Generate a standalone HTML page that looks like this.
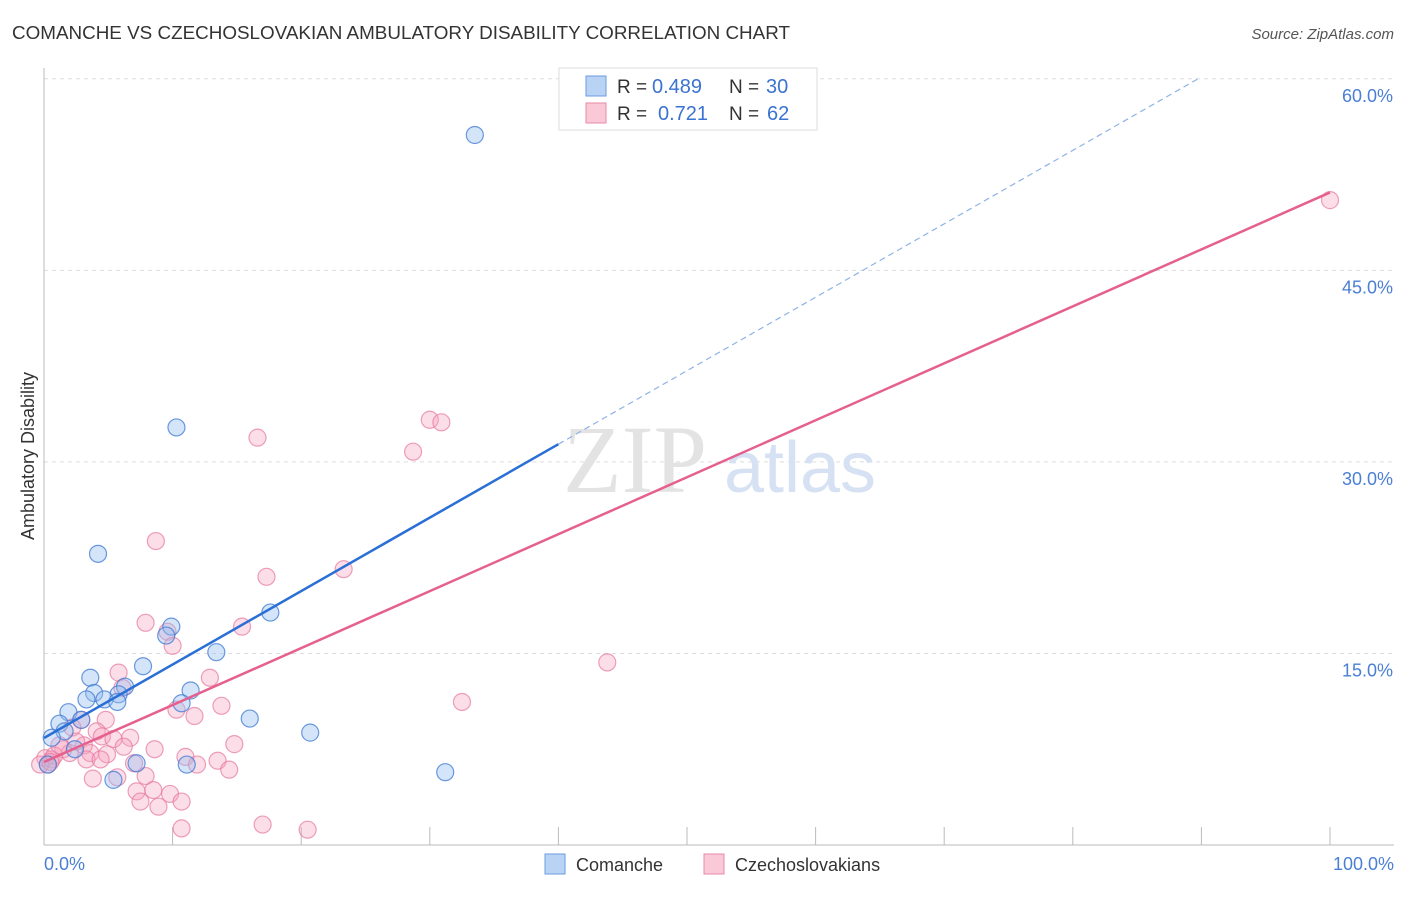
<!DOCTYPE html>
<html><head><meta charset="utf-8"><style>
body{margin:0;background:#fff;font-family:"Liberation Sans",sans-serif;}
</style></head><body>
<svg width="1406" height="892" xmlns="http://www.w3.org/2000/svg">
<text x="12" y="39" font-size="18" fill="#333" textLength="778" lengthAdjust="spacingAndGlyphs">COMANCHE VS CZECHOSLOVAKIAN AMBULATORY DISABILITY CORRELATION CHART</text>
<text x="1394" y="39" font-size="15" fill="#555" font-style="italic" text-anchor="end">Source: ZipAtlas.com</text>
<g id="grid"></g>
<g><text x="635" y="492" font-size="96" font-family="Liberation Serif" fill="#e3e3e3" text-anchor="middle">ZIP</text><text x="800" y="492" font-size="72" fill="#d6e2f3" text-anchor="middle">atlas</text></g>
<line x1="44" y1="68" x2="44" y2="845" stroke="#bbb"/>
<line x1="44" y1="845" x2="1394" y2="845" stroke="#bbb"/>
<text transform="translate(34,456) rotate(-90)" font-size="18" fill="#333" text-anchor="middle">Ambulatory Disability</text>
<text x="44" y="870" font-size="18" fill="#4a7fd4">0.0%</text>
<text x="1394" y="870" font-size="18" fill="#4a7fd4" text-anchor="end">100.0%</text>
<g id="marks"></g>
<g>
<rect x="559" y="68" width="258" height="62" fill="#fff" stroke="#ddd"/>
<rect x="586" y="76" width="20" height="20" fill="#b9d3f5" stroke="#6a9be0"/>
<rect x="586" y="103" width="20" height="20" fill="#f9c9d8" stroke="#e88aa8"/>
<text x="617" y="93" font-size="19" fill="#333">R =</text>
<text x="652" y="93" font-size="20" fill="#3b73d1">0.489</text>
<text x="729" y="93" font-size="19" fill="#333">N =</text>
<text x="766" y="93" font-size="20" fill="#3b73d1">30</text>
<text x="617" y="120" font-size="19" fill="#333">R =</text>
<text x="658" y="120" font-size="20" fill="#3b73d1">0.721</text>
<text x="729" y="120" font-size="19" fill="#333">N =</text>
<text x="767" y="120" font-size="20" fill="#3b73d1">62</text>
</g>
<g>
<rect x="545" y="854" width="20" height="20" fill="#b9d3f5" stroke="#6a9be0"/>
<text x="576" y="871" font-size="18" fill="#333">Comanche</text>
<rect x="704" y="854" width="20" height="20" fill="#f9c9d8" stroke="#e88aa8"/>
<text x="735" y="871" font-size="18" fill="#333">Czechoslovakians</text>
</g>
</svg>
<script>
const yTicks=[15,30,45,60];
const xTicks=[10,20,30,40,50,60,70,80,90,100];
const blueX=[33.5,10.3,4.2,17.6,9.9,9.5,13.4,7.7,3.6,6.3,3.9,5.8,11.4,3.3,4.7,5.7,10.7,1.9,16.0,2.9,1.2,1.6,20.7,0.6,2.4,7.2,11.1,31.2,5.4,0.3];
const blueY=[55.6,32.7,22.8,18.2,17.1,16.4,15.1,14.0,13.1,12.4,11.9,11.8,12.1,11.4,11.4,11.2,11.1,10.4,9.9,9.8,9.5,8.9,8.8,8.4,7.5,6.4,6.3,5.7,5.1,6.3];
const pinkX=[100,30.0,30.9,16.6,28.7,8.7,17.3,23.3,7.9,15.4,9.6,10.0,43.8,5.8,12.9,6.1,32.5,10.3,13.8,11.7,4.8,2.9,2.2,4.1,4.5,6.7,5.4,8.6,14.8,3.1,1.5,2.0,3.6,4.9,0.1,0.6,0.8,11.0,7.0,13.5,11.9,3.3,14.4,7.9,5.7,3.8,7.2,8.5,9.8,7.5,10.7,8.9,10.7,17.0,20.5,0.3,-0.3,1.2,0.5,2.5,4.4,6.2];
const pinkY=[50.5,33.3,33.1,31.9,30.8,23.8,21.0,21.6,17.4,17.1,16.7,15.6,14.3,13.5,13.1,12.3,11.2,10.6,10.9,10.1,9.8,9.8,9.2,8.9,8.5,8.4,8.3,7.5,7.9,7.8,7.5,7.2,7.2,7.1,6.8,6.7,7.0,6.9,6.4,6.6,6.3,6.7,5.9,5.4,5.3,5.2,4.2,4.3,4.0,3.4,3.4,3.0,1.3,1.6,1.2,6.3,6.3,7.8,6.5,8.1,6.7,7.7];
const blueFit=[8.38,65.9];
const pinkFit=[6.5,51.1];
const X=v=>44+v*12.86, Y=v=>845-v*12.77;
const NS='http://www.w3.org/2000/svg';
const grid=document.getElementById('grid'), marks=document.getElementById('marks');
function mk(tag,attrs,parent){const e=document.createElementNS(NS,tag);for(const k in attrs)e.setAttribute(k,attrs[k]);parent.appendChild(e);return e;}
yTicks.forEach(t=>{
 const l=mk('line',{x1:44,x2:1394,y1:Y(t),y2:Y(t),stroke:'#ddd','stroke-dasharray':'4,4'},grid);
 
 
 const tx=mk('text',{x:1393,y:Y(t)+23,'font-size':18,fill:'#4a7fd4','text-anchor':'end'},grid);
 tx.textContent=t.toFixed(1)+'%';
 
 
});
xTicks.forEach(t=>{
 const l=mk('line',{x1:X(t),x2:X(t),y1:827,y2:845,stroke:'#bbb'},grid);
 
 
});
pinkX.forEach((x,i)=>{
 const c=mk('circle',{cx:X(x),cy:Y(pinkY[i]),r:8.5,fill:'rgba(245,160,190,0.35)',stroke:'rgba(230,120,160,0.7)','stroke-width':1.2},marks);
 
 
});
blueX.forEach((x,i)=>{
 const c=mk('circle',{cx:X(x),cy:Y(blueY[i]),r:8.5,fill:'rgba(150,190,240,0.4)',stroke:'rgba(60,120,210,0.75)','stroke-width':1.2},marks);
 
 
});
const bAt=x=>blueFit[0]+(blueFit[1]-blueFit[0])*x/100;
const pAt=x=>pinkFit[0]+(pinkFit[1]-pinkFit[0])*x/100;
const bl=mk('line',{x1:X(0),y1:Y(bAt(0)),x2:X(40),y2:Y(bAt(40)),stroke:'#2a6fd6','stroke-width':2.5},marks);


const xEnd=(60.0-blueFit[0])/(blueFit[1]-blueFit[0])*100;
const bd=mk('line',{x1:X(40),y1:Y(bAt(40)),x2:X(xEnd),y2:Y(bAt(xEnd)),stroke:'#8fb2e6','stroke-width':1.2,'stroke-dasharray':'6,4'},marks);


const pl=mk('line',{x1:X(0),y1:Y(pAt(0)),x2:X(100),y2:Y(pAt(100)),stroke:'#e5608e','stroke-width':2.5},marks);


</script>
</body></html>
